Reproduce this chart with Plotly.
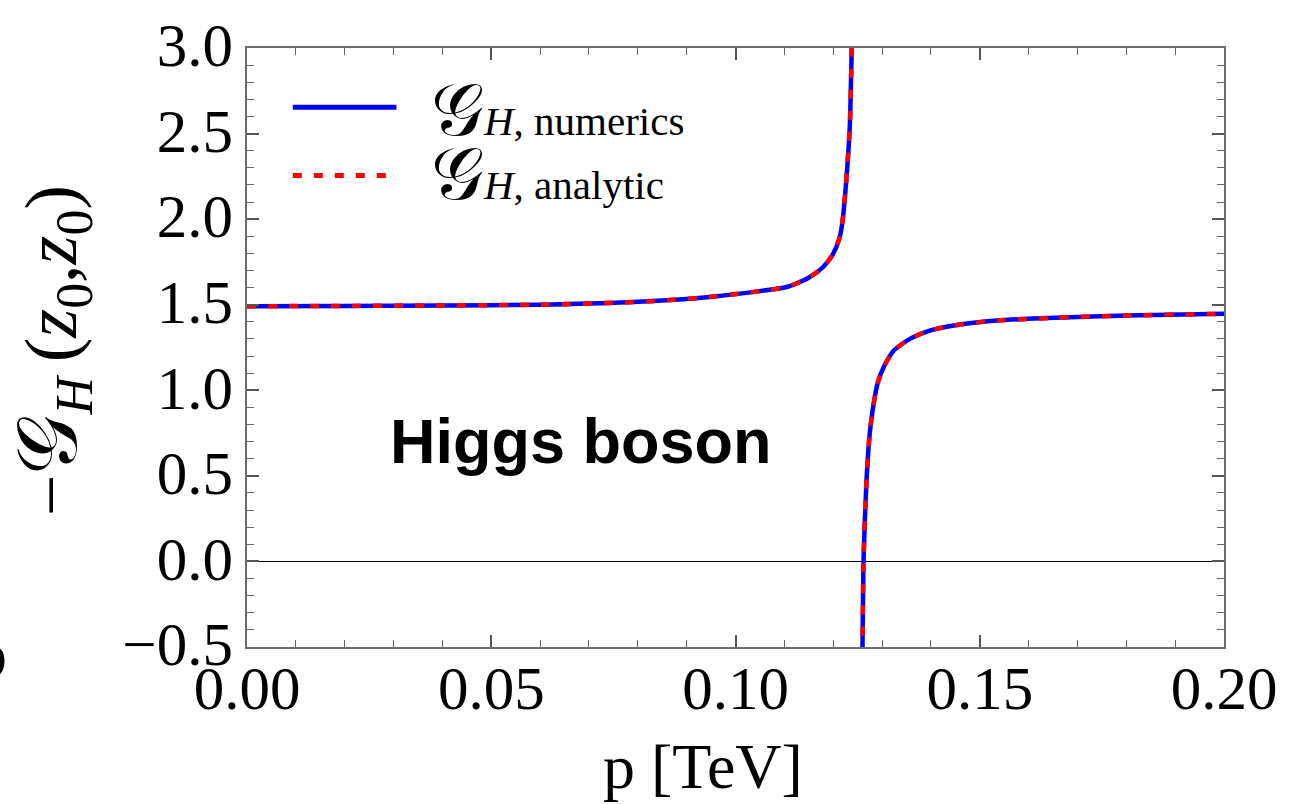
import plotly.graph_objects as go

# Left branch (below the pole) -- p [TeV], -G_H(z0,z0)
p_left = [0.0, 0.02, 0.04, 0.0597, 0.078, 0.0924, 0.1046, 0.1107, 0.1148, 0.1178,
          0.1199, 0.1213, 0.1219, 0.1226, 0.1234, 0.1238, 0.1241]
g_left = [1.491, 1.493, 1.496, 1.500, 1.514, 1.539, 1.578, 1.605, 1.655, 1.716,
          1.793, 1.890, 1.986, 2.197, 2.544, 3.000, 3.300]

# Right branch (above the pole)
p_right = [0.1257, 0.1260, 0.1262, 0.1268, 0.1275, 0.1282, 0.1291, 0.1304, 0.1325,
           0.1358, 0.1399, 0.1447, 0.1535, 0.1657, 0.1800, 0.2000]
g_right = [-0.800, -0.500, 0.000, 0.464, 0.753, 0.907, 1.042, 1.139, 1.235,
           1.302, 1.350, 1.379, 1.408, 1.424, 1.437, 1.447]

x_ticks = [0.00, 0.05, 0.10, 0.15, 0.20]
x_tick_labels = ["0.00", "0.05", "0.10", "0.15", "0.20"]
y_ticks = [-0.5, 0.0, 0.5, 1.0, 1.5, 2.0, 2.5, 3.0]
y_tick_labels = ["\u22120.5", "0.0", "0.5", "1.0", "1.5", "2.0", "2.5", "3.0"]

G = "<span style='font-size:74px'>\U0001D4A2</span>"
series_names = [G + "<span style='font-size:41px'><i>H</i>, numerics</span>",
                G + "<span style='font-size:41px'><i>H</i>, analytic</span>"]

BLUE = "#0000ff"
RED = "#ff0000"
SERIF = "Liberation Serif, Times New Roman, serif"

fig = go.Figure()
for px, gy in ((p_left, g_left), (p_right, g_right)):
    fig.add_trace(go.Scatter(x=px, y=gy, mode="lines", line=dict(color=BLUE, width=4.5, shape="spline", smoothing=0.6),
                             showlegend=False, hoverinfo="skip"))
for px, gy in ((p_left, g_left), (p_right, g_right)):
    fig.add_trace(go.Scatter(x=px, y=gy, mode="lines",
                             line=dict(color=RED, width=4.5, dash="9px,12px", shape="spline", smoothing=0.6),
                             showlegend=False, hoverinfo="skip"))

axis_common = dict(
    showgrid=False, showline=True, linecolor="#6e6e6e", linewidth=1.8, mirror="ticks",
    ticks="inside", ticklen=12, tickwidth=1.5, tickcolor="#555555",
    tickfont=dict(family=SERIF, size=61, color="black"),
)
fig.update_xaxes(range=[0, 0.2], tickvals=x_ticks, ticktext=x_tick_labels,
                 minor=dict(dtick=0.01, ticks="inside", ticklen=7, tickwidth=1.2, tickcolor="#666666"),
                 zeroline=False, ticklabelstandoff=-13, **axis_common)
fig.update_yaxes(range=[-0.5, 3.0], tickvals=y_ticks, ticktext=y_tick_labels,
                 minor=dict(dtick=0.1, ticks="inside", ticklen=7, tickwidth=1.2, tickcolor="#666666"),
                 zeroline=True, zerolinecolor="black", zerolinewidth=1.2, ticklabelshift=-3,
                 **axis_common)

# legend samples
fig.add_shape(type="line", xref="paper", yref="paper", x0=(293-247)/981, x1=(397-247)/981,
              y0=(647-101)/606, y1=(647-101)/606, line=dict(color=BLUE, width=5))
fig.add_shape(type="line", xref="paper", yref="paper", x0=(293-247)/981, x1=(389-247)/981,
              y0=(647-170)/606, y1=(647-170)/606, line=dict(color=RED, width=5, dash="9px,12px"))
for name, yc in zip(series_names, [104, 168]):
    fig.add_annotation(xref="paper", yref="paper", x=(430-247)/981, y=(647-yc)/606,
                       xanchor="left", yanchor="middle", showarrow=False, text=name,
                       font=dict(family=SERIF, size=41, color="black"))

fig.add_annotation(xref="paper", yref="paper", x=(582-247)/981, y=(647-439)/606,
                   xanchor="center", yanchor="middle", showarrow=False, text="<b>Higgs boson</b>",
                   font=dict(family="Liberation Sans, Arial, sans-serif", size=63, color="black"))

# axis titles
fig.add_annotation(xref="paper", yref="paper", x=(705-247)/981, y=(647-768)/606,
                   xanchor="center", yanchor="middle", showarrow=False, text="p [TeV]",
                   font=dict(family=SERIF, size=64, color="black"))
fig.add_annotation(xref="paper", yref="paper", x=(52-247)/981, y=(647-347)/606,
                   xanchor="center", yanchor="middle", showarrow=False, textangle=-90,
                   text="\u2212<span style='font-size:84px'>\U0001D4A2</span><sub><i>H</i></sub>\u2009(<i>z</i><sub>0</sub>,<i>z</i><sub>0</sub>)",
                   font=dict(family=SERIF, size=74, color="black"))

# clipped panel label fragment at the far left edge
fig.add_annotation(xref="paper", yref="paper", x=(8-247)/981, y=(647-655)/606,
                   xanchor="right", yanchor="middle", showarrow=False, text="b",
                   font=dict(family=SERIF, size=66, color="black"))

fig.update_layout(width=1289, height=804, paper_bgcolor="white", plot_bgcolor="white",
                  margin=dict(l=247, r=61, t=41, b=157), showlegend=False)

fig.write_html("out.html")
